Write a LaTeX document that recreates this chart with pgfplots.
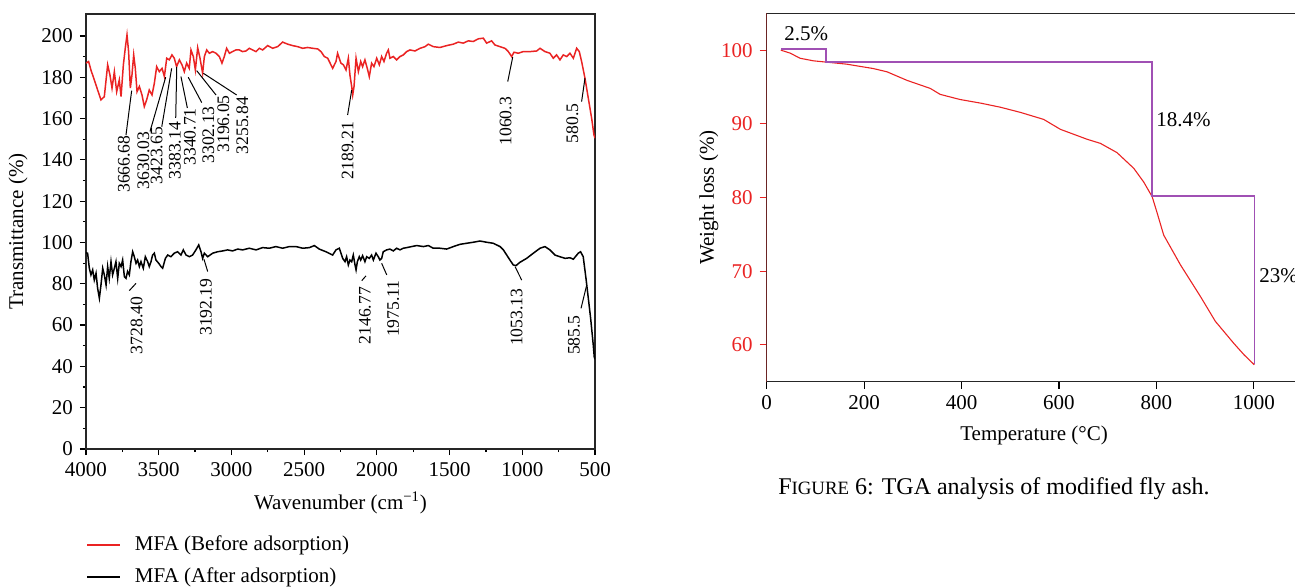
\documentclass[border=0pt]{standalone}
\usepackage{fontspec}
\setmainfont{Liberation Serif}
\usepackage{pgfplots}
\pgfplotsset{compat=1.18}
\definecolor{cred}{RGB}{234,35,35}
\definecolor{cpurple}{RGB}{160,80,180}
\newcommand{\labfont}{\fontsize{10.5}{12}\selectfont}
\newcommand{\annfont}{\fontsize{8.8}{10}\selectfont}
\begin{document}
\begin{tikzpicture}
\useasboundingbox (0,0) rectangle (647.5pt,293pt);
\begin{axis}[at={(43pt,68.5pt)}, anchor=south west, scale only axis,
  width=254.5pt, height=217.5pt,
  x dir=reverse, xmin=500, xmax=4000, ymin=0, ymax=210.6,
  xtick={500,1000,...,4000}, ytick={0,20,...,200},
  minor x tick num=1, minor y tick num=1,
  tick align=outside, xtick pos=left, ytick pos=left,
  major tick length=3pt, minor tick length=1.6pt,
  every tick/.style={black, line width=0.6pt},
  axis line style={line width=0.7pt, black!85},
  /pgf/number format/assume math mode=true,
  /pgf/number format/1000 sep={},
  tick label style={font=\labfont},
  label style={font=\labfont},
  xlabel={Wavenumber (cm\textsuperscript{\char"2212 1})},
  xlabel style={at={(axis description cs:0.5,-0.124)}, anchor=center},
  ylabel={Transmittance (\%)},
  ylabel style={at={(axis description cs:-0.1336,0.5)}, anchor=center},
  legend cell align=left,
  legend style={at={(axis description cs:0,-0.19)}, anchor=north west, draw=none, fill=none, font=\labfont, row sep=3pt, column sep=5pt, inner sep=0pt},
  legend image code/.code={\draw[#1, line width=0.8pt] (0pt,0pt) -- (16.5pt,0pt);},
]
\addplot[cred, line width=0.75pt] coordinates {
(4000,186.8)(3982,187.6)(3966,183.5)(3943,178.7)(3920,173.8)(3897,169)(3874,170.6)(3851,186)(3835,181)(3821,174.7)(3805,182.7)(3789,173)(3771,178.7)(3759,170.6)(3743,186)(3730,194)(3718,200.5)(3707,192.4)(3695,174.7)(3684,181)(3672,190.8)(3661,184.3)(3649,173)(3633,175.5)(3615,171.4)(3599,165.8)(3583,169)(3565,173.8)(3546,171.4)(3530,177.1)(3514,185.1)(3496,182.7)(3477,184.3)(3461,180.3)(3445,189.2)(3427,188.4)(3409,190.8)(3393,189.2)(3377,185.1)(3358,188.4)(3340,186)(3324,182.7)(3308,186.8)(3290,184.3)(3278,193.2)(3262,190)(3248,183.5)(3232,194.3)(3216,189.2)(3198,181.9)(3186,190)(3170,193.2)(3152,191.6)(3129,192.4)(3106,191.6)(3083,190)(3065,186.8)(3049,190)(3033,194)(3014,191.6)(2992,192.4)(2969,193.2)(2946,193.2)(2923,192.4)(2900,192.7)(2877,194)(2854,193.2)(2831,192.4)(2808,194)(2785,193.2)(2751,195.3)(2716,194)(2682,194.8)(2648,197)(2613,196)(2579,195.3)(2545,194.8)(2510,194)(2476,194.4)(2441,194)(2407,193.7)(2384,192.4)(2361,190)(2338,189.2)(2304,184.3)(2281,187.6)(2270,191.6)(2247,186.8)(2230,186)(2212,183.5)(2196,189.2)(2185,181)(2173,175.5)(2166,171.4)(2157,175.5)(2143,189.2)(2127,182.7)(2111,187.6)(2098,185.1)(2082,188.4)(2066,184.3)(2052,180.3)(2036,186.8)(2020,185.1)(2001,189.2)(1983,186)(1967,190)(1951,187.6)(1933,191.6)(1921,193.2)(1910,189.2)(1887,190)(1864,188.4)(1841,190)(1818,190.8)(1795,192.4)(1772,193.2)(1738,192.7)(1703,194)(1669,194.8)(1646,196)(1612,194.8)(1566,194.4)(1520,195.3)(1474,196)(1440,197)(1406,196.5)(1371,197.6)(1337,197.3)(1302,198.6)(1268,198.9)(1245,196.5)(1211,197.6)(1188,195.6)(1153,194.8)(1119,194)(1096,192.4)(1073,190)(1057,192.1)(1027,191.6)(993,192.4)(947,192.4)(901,192.7)(878,194)(844,192.4)(810,191.6)(787,189.2)(764,190.8)(741,188.4)(718,190.8)(695,190)(672,191.6)(649,189.2)(626,194)(608,192.4)(592,187.6)(569,179.5)(546,169.8)(523,160.1)(507,152)(500,150.5)
};
\addlegendentry{MFA (Before adsorption)}
\addplot[black, line width=0.75pt] coordinates {
(4000,95)(3989,94.8)(3977,87.5)(3966,84.3)(3954,86.7)(3943,81.8)(3931,85.1)(3920,77.8)(3908,73)(3897,79.4)(3885,87.5)(3874,84.3)(3862,79.4)(3851,88.3)(3840,82.6)(3828,90.7)(3817,84.3)(3805,87.5)(3794,90.7)(3782,82.6)(3771,89.9)(3759,88.3)(3748,91.5)(3736,83.4)(3725,82.6)(3714,86)(3702,84.3)(3691,90.7)(3679,95.5)(3668,93.1)(3656,89.9)(3645,91.5)(3633,88.3)(3622,90.7)(3606,87.5)(3592,93.1)(3576,90.7)(3565,88.3)(3553,90.7)(3542,93.9)(3530,94.8)(3519,91.5)(3500,89.9)(3484,88.3)(3473,87.5)(3454,92.3)(3438,93.9)(3416,93.1)(3393,94.8)(3370,95.5)(3347,93.9)(3331,96.4)(3312,93.9)(3289,93.1)(3267,93.9)(3244,96.4)(3225,98.8)(3209,95.5)(3198,92.3)(3186,94.8)(3163,93.1)(3129,94.8)(3095,95.5)(3060,95.9)(3026,96.4)(2992,95.9)(2957,96.8)(2923,96.4)(2877,97.2)(2831,96.4)(2785,97.5)(2739,97.2)(2694,98)(2648,97.2)(2602,98)(2556,98)(2510,97.2)(2464,97.5)(2430,98.5)(2396,96.8)(2350,95.5)(2304,93.9)(2281,96.4)(2258,97.2)(2235,92.3)(2219,90.7)(2208,93.1)(2196,89.1)(2185,91.5)(2173,90.7)(2162,93.9)(2150,89.1)(2143,86.7)(2134,90.7)(2121,93.1)(2111,91.5)(2098,93.6)(2082,90.7)(2070,93.1)(2052,92.3)(2036,93.9)(2024,91.5)(2006,94.8)(1990,93.1)(1979,91.5)(1967,92.3)(1956,95.5)(1933,96.4)(1910,96.8)(1887,95.9)(1864,97.2)(1841,96.4)(1818,97.2)(1795,97.5)(1761,98)(1726,98.5)(1680,98)(1646,98.5)(1612,97.2)(1566,97.2)(1520,96.8)(1474,98)(1428,99.1)(1383,99.6)(1337,100.1)(1291,100.7)(1245,100.1)(1199,99.6)(1153,98)(1130,96.4)(1107,93.9)(1085,91.5)(1062,89.1)(1043,88.8)(1016,90.4)(970,92.3)(924,94.8)(878,97.2)(844,98)(810,96.4)(775,93.9)(741,93.1)(706,92.3)(672,92.6)(649,91.9)(615,94.8)(599,95.5)(581,93.1)(562,82.6)(546,73)(530,63.3)(512,50.4)(505,44.5)(500,43.5)
};
\addlegendentry{MFA (After adsorption)}
\begin{scope}[line width=0.5pt]
\draw (axis cs:3725,152) -- (axis cs:3686,173.5);
\draw (axis cs:3560,153.7) -- (axis cs:3452,180);
\draw (axis cs:3479,156) -- (axis cs:3411,184.3);
\draw (axis cs:3383,160.3) -- (axis cs:3376,185);
\draw (axis cs:3303,165.1) -- (axis cs:3347,180.3);
\draw (axis cs:3204,167.7) -- (axis cs:3297,180);
\draw (axis cs:3106,171.4) -- (axis cs:3239,183.2);
\draw (axis cs:2964,171.4) -- (axis cs:3193,181.9);
\draw (axis cs:2201,161.7) -- (axis cs:2173,173.8);
\draw (axis cs:1100,177.9) -- (axis cs:1066,189.7);
\draw (axis cs:592,168.2) -- (axis cs:569,179.5);
\draw (axis cs:3702,76.7) -- (axis cs:3656,80.2);
\draw (axis cs:3163,85.9) -- (axis cs:3189,91.9);
\draw (axis cs:2104,81.5) -- (axis cs:2075,83.8);
\draw (axis cs:1932,84.3) -- (axis cs:1967,89.9);
\draw (axis cs:1004,81.8) -- (axis cs:1050,88.3);
\draw (axis cs:596,68.1) -- (axis cs:557,79.4);
\end{scope}
\begin{scope}[every node/.style={rotate=90, anchor=east, inner sep=0pt, font=\annfont}]
\node at (axis cs:3739,152) {3666.68};
\node at (axis cs:3606,153.7) {3630.03};
\node at (axis cs:3514,156) {3423.65};
\node at (axis cs:3388,158.5) {3383.14};
\node at (axis cs:3285,165.1) {3340.71};
\node at (axis cs:3159,166.1) {3302.13};
\node at (axis cs:3056,171.4) {3196.05};
\node at (axis cs:2925,170.6) {3255.84};
\node at (axis cs:2201,158.5) {2189.21};
\node at (axis cs:1114,170.6) {1060.3};
\node at (axis cs:656,167.4) {580.5};
\node at (axis cs:3651,73.8) {3728.40};
\node at (axis cs:3175,82.7) {3192.19};
\node at (axis cs:2082,78.6) {2146.77};
\node at (axis cs:1887,81.8) {1975.11};
\node at (axis cs:1039,77.8) {1053.13};
\node at (axis cs:645,64.9) {585.5};
\end{scope}
\end{axis}

\begin{axis}[at={(383.35pt,102.15pt)}, anchor=south west, scale only axis,
  width=267.9pt, height=184.2pt,
  xmin=0, xmax=1100, ymin=55, ymax=105,
  xtick={0,200,...,1000}, ytick={60,70,...,100},
  tick align=outside, xtick pos=left, ytick pos=left,
  major tick length=3.5pt,
  every tick/.style={line width=0.6pt},
  xtick style={black}, ytick style={cred},
  axis line style={line width=0.7pt, black!85},
  /pgf/number format/assume math mode=true,
  /pgf/number format/1000 sep={},
  tick label style={font=\labfont},
  y tick label style={text=cred},
  label style={font=\labfont},
  xlabel={Temperature (°C)},
  xlabel style={at={(axis description cs:0.499,-0.147)}, anchor=center},
  ylabel={Weight loss (\%)},
  ylabel style={at={(axis description cs:-0.108,0.5)}, anchor=center},
]
\addplot[cred, line width=0.55pt] coordinates {
(29,100)(48,99.6)(68.5,98.9)(96,98.55)(123,98.37)(164,98.1)(219,97.5)(247,97.06)(288,95.9)(336,94.8)(356,94.0)(397,93.3)(440,92.8)(480,92.25)(521,91.55)(568.6,90.6)(603,89.25)(658,87.9)(685,87.35)(719,86.1)(753.6,83.96)(774,82.1)(791.4,80.1)(801.6,77.9)(815,74.9)(849.5,70.85)(890.6,66.55)(921,63.2)(959,60.2)(980,58.65)(1001,57.3)
};
\addplot[cpurple, line width=0.7pt] coordinates {
(30,100.15)(122,100.15)(122,98.4)(791,98.4)(791,80.2)(1002,80.2)(1002,57.4)
};
\draw[cred, line width=0.7pt] (rel axis cs:0,0) -- (rel axis cs:0,1);
\node[anchor=west, inner sep=0pt, font=\labfont] at (axis cs:35.5,102.2) {2.5\%};
\node[anchor=west, inner sep=0pt, font=\labfont] at (axis cs:799,90.5) {18.4\%};
\node[anchor=west, inner sep=0pt, font=\labfont] at (axis cs:1010.6,69.4) {23\%};
\end{axis}
\node[font=\fontsize{12}{14}\selectfont] at (497pt,48.5pt) {F{\fontsize{9.4}{11}\selectfont IGURE} 6: TGA analysis of modified fly ash.};
\end{tikzpicture}
\end{document}
